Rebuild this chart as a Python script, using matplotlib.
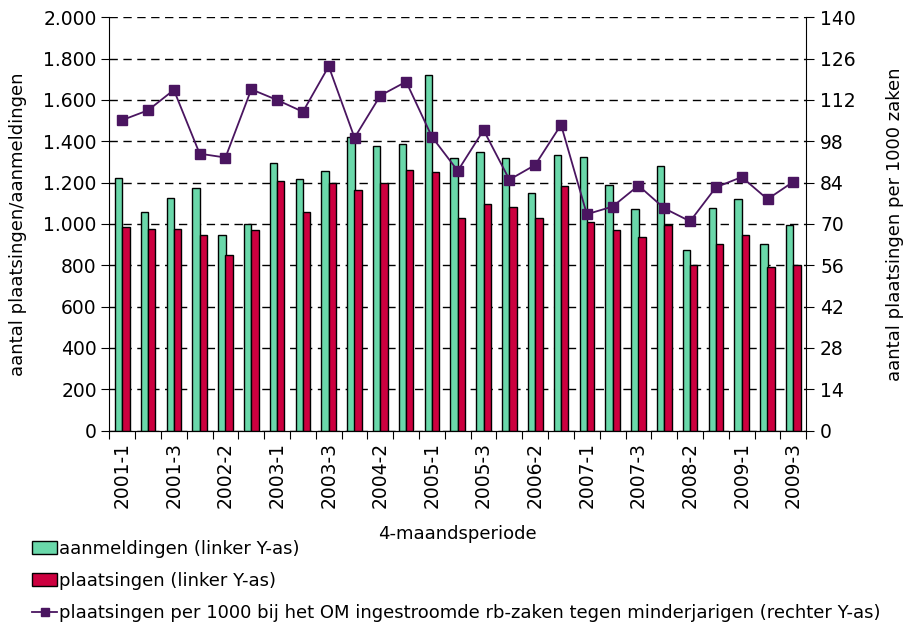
import matplotlib
matplotlib.use('Agg')
import matplotlib.pyplot as plt
from matplotlib.patches import Patch
from matplotlib.lines import Line2D
import numpy as np

plt.rcParams['font.family'] = ['DejaVu Sans']

# 4-maandsperiodes 2001-1 .. 2009-3
periodes = [f'{j}-{k}' for j in range(2001, 2010) for k in (1, 2, 3)]

aanmeldingen = [1224, 1056, 1124, 1173, 948, 1002, 1294, 1216, 1255, 1421,
                1376, 1389, 1719, 1318, 1348, 1321, 1150, 1335, 1324, 1189,
                1073, 1282, 876, 1079, 1123, 902, 997]
plaatsingen = [987, 974, 977, 945, 850, 969, 1210, 1056, 1200, 1163,
               1200, 1261, 1250, 1031, 1097, 1081, 1027, 1182, 1011, 973,
               937, 994, 803, 905, 948, 790, 803]
per1000 = [105.2, 108.5, 115.4, 93.8, 92.5, 115.6, 112.0, 108.0, 123.4, 99.2,
           113.5, 118.2, 99.5, 88.0, 101.8, 85.0, 90.0, 103.6, 73.3, 75.9,
           83.0, 75.3, 70.9, 82.4, 85.9, 78.4, 84.3]

groen = '#6AD8AA'
rood = '#CC003F'
paars = '#4A1560'

fig = plt.figure(figsize=(9.11, 6.25), dpi=100)
ax = fig.add_axes([0.12, 0.311, 0.765, 0.6613])
x = np.arange(len(periodes))
w = 0.285
ax.bar(x - 0.14, aanmeldingen, w, color=groen, edgecolor='black', linewidth=1, zorder=3)
ax.bar(x + 0.14, plaatsingen, w, color=rood, edgecolor='black', linewidth=1, zorder=3)

ax.set_ylim(0, 2000)
ax.set_xlim(-0.5, len(periodes) - 0.5)
ax.set_yticks(range(0, 2001, 200))
ax.set_yticklabels([f'{v:,}'.replace(',', '.') for v in range(0, 2001, 200)])
ax.grid(axis='y', color='black', linestyle=(0, (6, 4)), linewidth=1, zorder=0)
ax.spines['top'].set_visible(False)
ax.spines['right'].set_visible(False)

ax.set_xticks(np.arange(-0.5, len(periodes), 1.0))
ax.set_xticklabels([])
ax.set_xticks(x[::2], minor=True)
ax.set_xticklabels(periodes[::2], minor=True, rotation=90)
ax.tick_params(axis='x', which='minor', length=0, pad=8, labelsize=13.5)
ax.tick_params(axis='x', which='major', length=6)
ax.tick_params(axis='y', length=6, labelsize=13.5, pad=3)
ax.set_xlabel('4-maandsperiode', fontsize=13, labelpad=12)
ax.set_ylabel('aantal plaatsingen/aanmeldingen', fontsize=13, labelpad=12)

ax2 = ax.twinx()
ax2.plot(x, per1000, color=paars, linewidth=1.3, marker='s', markersize=6.5, zorder=4)
ax2.set_ylim(0, 140)
ax2.set_yticks(range(0, 141, 14))
ax2.tick_params(axis='y', length=6, labelsize=13.5, pad=4)
ax2.spines['top'].set_visible(False)
ax2.spines['left'].set_visible(False)
ax2.set_ylabel('aantal plaatsingen per 1000 zaken', fontsize=13, labelpad=22)

handles = [Patch(facecolor=groen, edgecolor='black'),
           Patch(facecolor=rood, edgecolor='black'),
           Line2D([], [], color=paars, marker='s', markersize=5.5, linewidth=1.3)]
labels = ['aanmeldingen (linker Y-as)', 'plaatsingen (linker Y-as)',
          'plaatsingen per 1000 bij het OM ingestroomde rb-zaken tegen minderjarigen (rechter Y-as)']
fig.legend(handles, labels, loc='upper left', bbox_to_anchor=(0.035, 0.136),
           bbox_transform=fig.transFigure, frameon=False, fontsize=13,
           handlelength=1.4, handletextpad=0.1, labelspacing=0.78,
           borderaxespad=0, borderpad=0)

fig.savefig('out.png', dpi=100)
